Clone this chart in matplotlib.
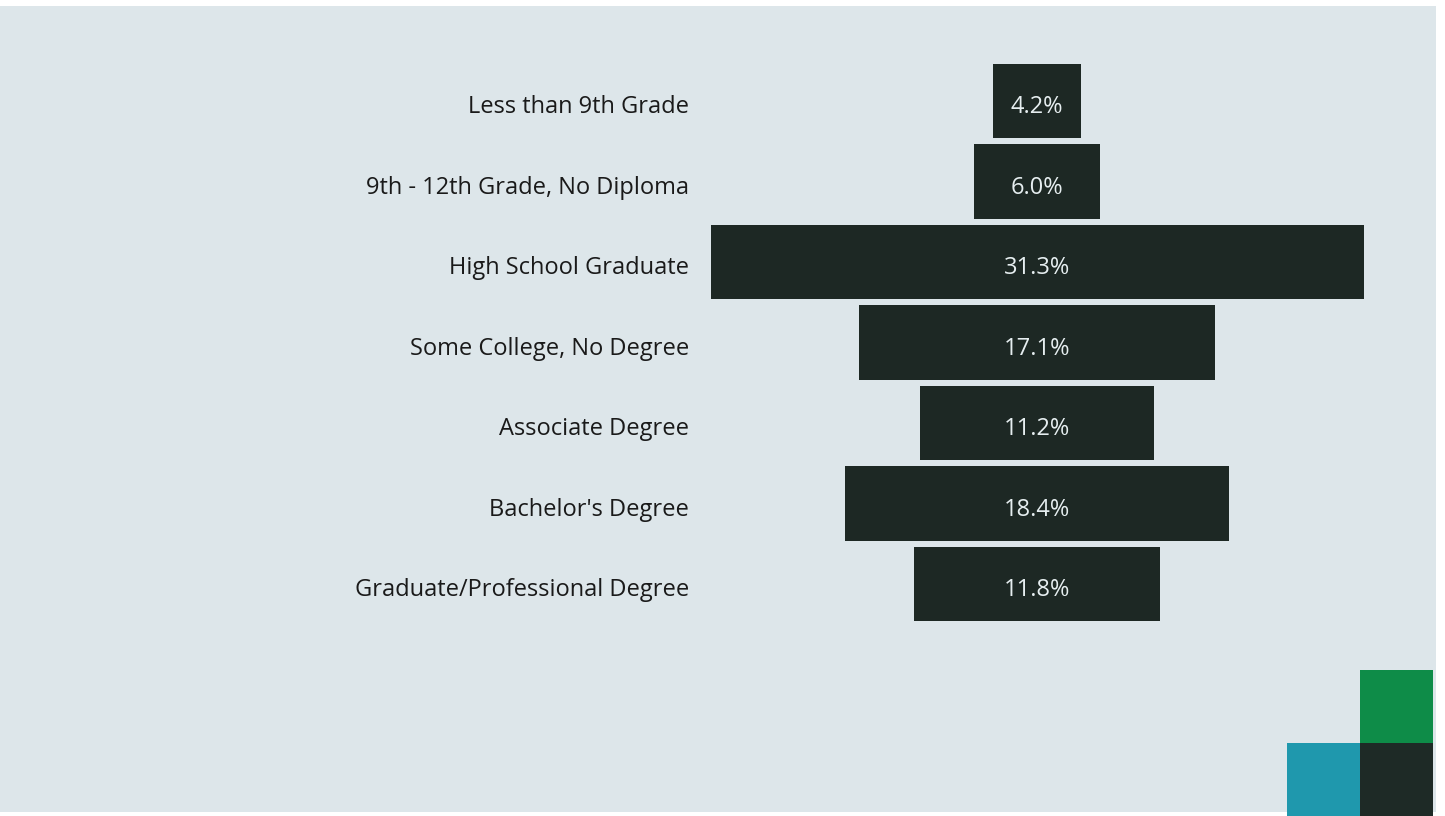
import numpy as np
import matplotlib.pyplot as plt
from matplotlib.patches import Rectangle

# Educational attainment shares (%)
categories = [
    "Less than 9th Grade",
    "9th - 12th Grade, No Diploma",
    "High School Graduate",
    "Some College, No Degree",
    "Associate Degree",
    "Bachelor's Degree",
    "Graduate/Professional Degree",
]
shares = [4.2, 6.0, 31.3, 17.1, 11.2, 18.4, 11.8]
value_labels = [f"{v:.1f}%" for v in shares]

W, H = 1445, 816
BG = "#dde6ea"
BAR = "#1d2824"
FONT = ["Open Sans", "DejaVu Sans"]

fig = plt.figure(figsize=(W / 100, H / 100), dpi=100, facecolor="white")

# page background panel (kept behind the axes)
fig.patches.append(
    Rectangle((0, 4 / H), 1436 / W, 806 / H, transform=fig.transFigure,
              facecolor=BG, edgecolor="none", zorder=-10)
)

ax = fig.add_axes([0, 0, 1, 1])
ax.set_facecolor("none")

px_per_unit = 653 / 31.3
center_px = 1037
ax.set_xlim(-center_px / px_per_unit, (W - center_px) / px_per_unit)
row_px, first_px = 80.5, 101
ax.set_ylim((H - first_px) / row_px, -first_px / row_px)
ax.axis("off")

y = np.arange(len(categories))
ax.barh(y, shares, left=-np.array(shares) / 2, height=0.92, color=BAR)

label_x = (689 - center_px) / px_per_unit
for i, (cat, lab) in enumerate(zip(categories, value_labels)):
    ax.text(label_x, i + 0.04, cat, ha="right", va="center_baseline", fontsize=17,
            color="#1a1a1a", family=FONT)
    ax.text(0, i + 0.04, lab, ha="center", va="center_baseline", fontsize=17,
            color="#e6eef0", family=FONT)

# corner squares
for (x0, y0, c) in [(1360, 670, "#0e8c48"), (1287, 743, "#1f98ad"), (1360, 743, "#1e2a26")]:
    fig.patches.append(
        Rectangle((x0 / W, 1 - (y0 + 73) / H), 73 / W, 73 / H,
                  transform=fig.transFigure, facecolor=c, edgecolor="none", zorder=1)
    )

fig.savefig("out.png", dpi=100, facecolor=fig.get_facecolor())
